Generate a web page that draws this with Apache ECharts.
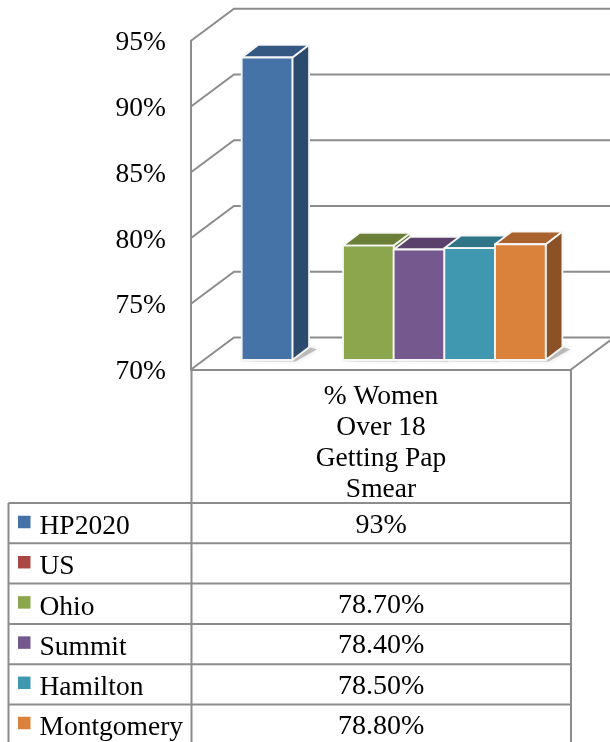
<!DOCTYPE html>
<html><head><meta charset="utf-8">
<style>html,body{margin:0;padding:0;background:#fff}#c{width:610px;height:742px}</style>
<script src="https://cdn.jsdelivr.net/npm/echarts@6/dist/echarts.min.js"></script>
</head><body><div id="c"></div>
<script>
const categories = ['% Women\nOver 18\nGetting Pap\nSmear'];
const seriesNames = ['HP2020','US','Ohio','Summit','Hamilton','Montgomery'];
const seriesValues = [93,null,78.7,78.4,78.5,78.8];
const tableLabels = ['93%','','78.70%','78.40%','78.50%','78.80%'];
const axisTicks = [70,75,80,85,90,95];

const frontColors = ['#4572A7','#AA4643','#8CA64E','#74588E','#4098B0','#DA813C'];
const topColors   = ['#345882','#85332F','#6C7F39','#5A416C','#2F7587','#A9622D'];
const sideColors  = ['#2C4A6E','#732C29','#677B36','#523D69','#2D6F80','#8A5226'];

const FONT = '"Liberation Serif"';
const GRID = {left:191, top:40.7, width:380, height:328.8};
const WALL = {dx:43, dy:-32};
const BAR_OFF = {dx:12.7, dy:-9.5};
const BAR_DEPTH = {dx:16.7, dy:-12.7};
const LINE = '#8C8C8C';
const TABLE = {left:8.5, mid:191.5, right:571, top:503, row:40.3, bottom:742};

function slot(api, idx){
  const band = api.size([1,0])[0];
  const c = api.coord([0,70])[0];
  const w = band*0.8/6;
  return {x:c-band/2+band*0.1+idx*w+BAR_OFF.dx, w:w};
}
function poly(points, fill, stroke, extra){
  return Object.assign({type:'polygon',shape:{points},
    style:{fill, stroke:stroke||null, lineWidth:stroke?1.8:0, lineJoin:'round'}}, extra||{});
}

const wallSeries = {
  type:'custom', name:'walls', silent:true, z:1, clip:false, coordinateSystem:'cartesian2d',
  data: axisTicks.map(v=>[0,v]),
  renderItem(params, api){
    const v = api.value(1);
    const y = api.coord([0,v])[1];
    const band = api.size([1,0])[0];
    const x0 = api.coord([0,v])[0]-band/2;
    const stroke = {stroke:LINE, lineWidth:2, fill:null};
    return {type:'polyline', shape:{points:[[x0,y],[x0+WALL.dx,y+WALL.dy],[640,y+WALL.dy]]}, style:stroke};
  }
};
const floorSeries = {
  type:'custom', name:'floor', silent:true, z:1, clip:false, coordinateSystem:'cartesian2d',
  data:[[0,70]],
  renderItem(params, api){
    const p = api.coord([0,70]);
    const band = api.size([1,0])[0];
    const xr = p[0]+band/2;
    return {type:'polyline', shape:{points:[[xr,p[1]],[xr+WALL.dx,p[1]+WALL.dy]]},
      style:{stroke:LINE, lineWidth:2, fill:null}};
  }
};
const shadowSeries = {
  type:'custom', name:'shadow', silent:true, z:2, clip:false, coordinateSystem:'cartesian2d',
  data: seriesValues.map((v,i)=>[0,v,i]).filter(d=>d[1]!=null),
  renderItem(params, api){
    const s = slot(api, api.value(2));
    const b = api.coord([0,70])[1]+BAR_OFF.dy;
    const x = s.x, w = s.w, d = BAR_DEPTH;
    return poly([[x-3,b+1.5],[x+w+3,b+1.5],[x+w+d.dx+8,b+d.dy+2],[x+w+d.dx,b+d.dy],[x+w,b]],
      'rgba(130,130,130,0.45)', null, {style:{fill:'rgba(130,130,130,0.45)',shadowBlur:4,shadowColor:'rgba(130,130,130,0.6)'}});
  }
};
const barSeries = seriesNames.map((name,i)=>({
  type:'custom', name, z:3, clip:false, coordinateSystem:'cartesian2d',
  itemStyle:{color:frontColors[i]},
  data:[[0,seriesValues[i]]],
  renderItem(params, api){
    const v = seriesValues[i];
    if (v==null) return null;
    const s = slot(api,i);
    const yb = api.coord([0,70])[1]+BAR_OFF.dy;
    const yt = api.coord([0,v])[1]+BAR_OFF.dy;
    const x=s.x, w=s.w, d=BAR_DEPTH, W='#F6F6F6';
    return {type:'group', children:[
      poly([[x+w,yt],[x+w+d.dx,yt+d.dy],[x+w+d.dx,yb+d.dy],[x+w,yb]], sideColors[i], W),
      poly([[x,yt],[x+d.dx,yt+d.dy],[x+w+d.dx,yt+d.dy],[x+w,yt]], topColors[i], W),
      poly([[x,yt],[x+w,yt],[x+w,yb],[x,yb]], frontColors[i], W)
    ]};
  }
}));

const tableGraphics = [];
function tline(x1,y1,x2,y2){
  tableGraphics.push({type:'line',silent:true,z:5,shape:{x1,y1,x2,y2},style:{stroke:LINE,lineWidth:2}});
}
seriesNames.forEach((n,i)=>{
  const y = TABLE.top+i*TABLE.row;
  tline(TABLE.left,y,TABLE.right,y);
  tableGraphics.push({type:'text',silent:true,z:6,
    style:{text:tableLabels[i],x:(TABLE.mid+TABLE.right)/2,y:y+TABLE.row/2+2,align:'center',verticalAlign:'middle',
      font:'28px '+FONT,fill:'#000'}});
});
tline(TABLE.left,TABLE.top,TABLE.left,TABLE.bottom);
tline(TABLE.mid,GRID.top+GRID.height,TABLE.mid,TABLE.bottom);
tline(TABLE.right,GRID.top+GRID.height,TABLE.right,TABLE.bottom);

const axisRich = {fontFamily:FONT,fontSize:27.5,color:'#000',lineHeight:26,padding:[5,0,0,0]};
const legendRich = {fontFamily:FONT,fontSize:27.5,color:'#000',lineHeight:26,padding:[10,0,0,0]};
const chart = echarts.init(document.getElementById('c'),null,{renderer:'canvas'});
chart.setOption({
  animation:false,
  backgroundColor:'#fff',
  grid:Object.assign({containLabel:false},GRID),
  legend:{
    orient:'vertical', left:18, top:TABLE.top, height:300, itemWidth:12.5, itemHeight:12.5, itemGap:2.2, padding:0,
    selectedMode:false, icon:'rect', data:seriesNames,
    formatter:'{a|{name}}',
    textStyle:{fontFamily:FONT,fontSize:27.5,color:'#000',padding:[0,0,0,4],rich:{a:legendRich}}
  },
  xAxis:{type:'category',data:categories,boundaryGap:true,
    axisTick:{show:false},
    axisLine:{show:true,lineStyle:{color:LINE,width:2}},
    axisLabel:{fontFamily:FONT,fontSize:27.5,color:'#000',lineHeight:31,margin:12,interval:0}},
  yAxis:{type:'value',min:70,max:95,interval:5,
    axisLine:{show:true,lineStyle:{color:LINE,width:2}},
    axisTick:{show:false},
    splitLine:{show:false},
    axisLabel:{formatter:'{a|{value}%}',rich:{a:axisRich},margin:25}},
  series:[wallSeries,floorSeries,shadowSeries].concat(barSeries),
  graphic:tableGraphics
});
</script></body></html>
